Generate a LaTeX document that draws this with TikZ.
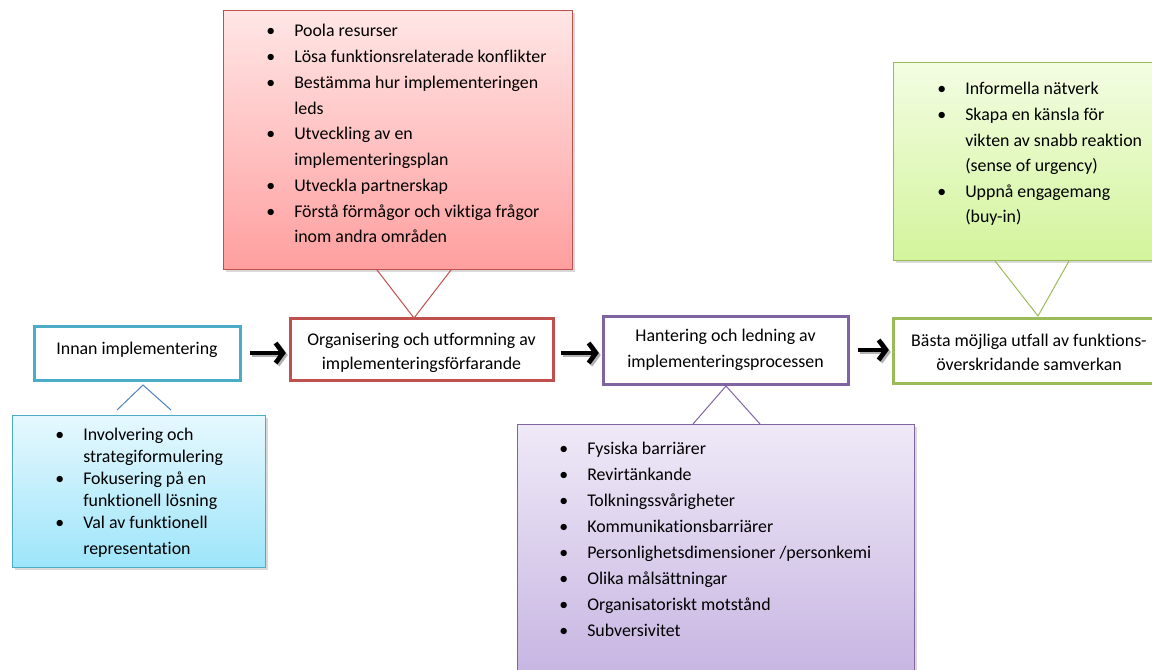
\documentclass[tikz,border=0pt]{standalone}
\usepackage{fontspec}
\setmainfont{Carlito}[Ligatures={NoCommon}]
\usetikzlibrary{arrows.meta,shadows}
\definecolor{redB}{HTML}{C0504D}
\definecolor{redT}{HTML}{FFE6E6}
\definecolor{redBt}{HTML}{FF9F9F}
\definecolor{bluB}{HTML}{4BACC6}
\definecolor{bluP}{HTML}{4F81BD}
\definecolor{bluT}{HTML}{E6F8FE}
\definecolor{bluBt}{HTML}{9DE5FA}
\definecolor{purB}{HTML}{8064A2}
\definecolor{purT}{HTML}{EFE9F7}
\definecolor{purBt}{HTML}{C3B0E0}
\definecolor{grnB}{HTML}{9BBB59}
\definecolor{grnT}{HTML}{F3FDE2}
\definecolor{grnBt}{HTML}{D3F49C}
\newcommand{\bl}{\makebox[21pt][l]{\textbullet}}
\begin{document}
\begin{tikzpicture}[x=0.75pt,y=-0.75pt,
  mainbox/.style={draw, line width=2.25pt, fill=white, inner sep=0pt,
    drop shadow={shadow xshift=1.5pt,shadow yshift=-1.5pt,opacity=0.25}},
  maintext/.style={anchor=base, inner sep=0pt},
  callout/.style={draw, line width=0.75pt, inner sep=0pt, anchor=north west,
    drop shadow={shadow xshift=2pt,shadow yshift=-2pt,opacity=0.3}},
  listtext/.style={anchor=base west, inner sep=0pt},
  pointer/.style={line width=0.75pt},
  bigarrow/.style={line width=3.5pt, shorten >=2pt, -{Straight Barb[length=5.5pt,width=15pt]},
    preaction={draw=black!30, line width=3.5pt, transform canvas={shift={(1.5pt,-1.5pt)}}}}
]
\useasboundingbox (0,0) rectangle (1152,670);
\clip (0,0) rectangle (1152,670);

% main boxes
\node[mainbox, draw=bluB, minimum width=154.5pt, minimum height=40.5pt] (inn) at (137,353) {};
\node[mainbox, draw=redB, minimum width=197.25pt, minimum height=46.5pt] (org) at (421.5,349) {};
\node[mainbox, draw=purB, minimum width=183.75pt, minimum height=51pt] (ham) at (725.5,350) {};
\node[mainbox, draw=grnB, minimum width=204pt, minimum height=48.75pt] (bas) at (1029,350.5) {};

\node[maintext, font=\fontsize{13.4}{18}\selectfont] (innt) at (137,354) {Innan implementering};
\node[maintext, font=\fontsize{13.4}{18}\selectfont] (orgt) at (421.5,345)
  {\begin{tabular}[t]{@{}c@{}}Organisering och utformning av\\implementeringsförfarande\end{tabular}};
\node[maintext, font=\fontsize{13.4}{19.7}\selectfont] (hamt) at (725.5,341)
  {\begin{tabular}[t]{@{}c@{}}Hantering och ledning av\\implementeringsprocessen\end{tabular}};
\node[maintext, font=\fontsize{13.4}{18}\selectfont] (bast) at (1029,346)
  {\begin{tabular}[t]{@{}c@{}}Bästa möjliga utfall av funktions-\\överskridande samverkan\end{tabular}};

% callouts
\node[callout, draw=redB, top color=redT, bottom color=redBt,
      minimum width=261.75pt, minimum height=194.25pt] (redc) at (223,10) {};
\node[callout, draw=bluB, top color=bluT, bottom color=bluBt,
      minimum width=189.75pt, minimum height=114pt] (bluc) at (12,415) {};
\node[callout, draw=grnB, top color=grnT, bottom color=grnBt,
      minimum width=204pt, minimum height=148.5pt] (grnc) at (893,62) {};
\node[callout, draw=purB, top color=purT, bottom color=purBt,
      minimum width=297.75pt, minimum height=207pt] (purc) at (517,424) {};

% list texts
\node[listtext, font=\fontsize{13.4}{19.3}\selectfont] (redl) at (266,37) {%
\begin{tabular}[t]{@{}l@{}}
\bl Poola resurser\\
\bl Lösa funktionsrelaterade konflikter\\
\bl Bestämma hur implementeringen\\
\hspace*{21pt}leds\\
\bl Utveckling av en\\
\hspace*{21pt}implementeringsplan\\
\bl Utveckla partnerskap\\
\bl Förstå förmågor och viktiga frågor\\
\hspace*{21pt}inom andra områden
\end{tabular}};
\node[listtext, font=\fontsize{13.4}{16.5}\selectfont] (blul) at (55,440) {%
\begin{tabular}[t]{@{}l@{}}
\bl Involvering och\\
\hspace*{21pt}strategiformulering\\
\bl Fokusering på en\\
\hspace*{21pt}funktionell lösning\\
\bl Val av funktionell\\[3pt]
\hspace*{21pt}representation
\end{tabular}};
\node[listtext, font=\fontsize{13.4}{19.2}\selectfont] (grnl) at (937,95) {%
\begin{tabular}[t]{@{}l@{}}
\bl Informella nätverk\\
\bl Skapa en känsla för\\
\hspace*{21pt}vikten av snabb reaktion\\
\hspace*{21pt}(sense of urgency)\\
\bl Uppnå engagemang\\
\hspace*{21pt}(buy-in)
\end{tabular}};
\node[listtext, font=\fontsize{13.4}{19.5}\selectfont] (purl) at (559,454) {%
\begin{tabular}[t]{@{}l@{}}
\bl Fysiska barriärer\\
\bl Revirtänkande\\
\bl Tolkningssvårigheter\\
\bl Kommunikationsbarriärer\\
\bl Personlighetsdimensioner /personkemi\\
\bl Olika målsättningar\\
\bl Organisatoriskt motstånd\\
\bl Subversivitet
\end{tabular}};

% pointers
\coordinate (rA) at (377,270);
\coordinate (rB) at (451,270);
\coordinate (rP) at (414,318);
\draw[pointer, redB] (rA) -- (rP) -- (rB);
\coordinate (bA) at (117,410);
\coordinate (bB) at (171,410);
\coordinate (bP) at (143,385);
\draw[pointer, bluP] (bA) -- (bP) -- (bB);
\coordinate (pA) at (693,424);
\coordinate (pB) at (760,424);
\coordinate (pP) at (726,386);
\draw[pointer, purB] (pA) -- (pP) -- (pB);
\coordinate (gA) at (995,261);
\coordinate (gB) at (1069,261);
\coordinate (gP) at (1038,316);
\draw[pointer, grnB] (gA) -- (gP) -- (gB);

% arrows
\draw[bigarrow] ([xshift=6pt]inn.east) -- (org.west |- inn.east);
\draw[bigarrow] ([xshift=4.5pt,yshift=-3pt]org.east) -- ([yshift=-3pt]org.east -| ham.west);
\draw[bigarrow] ([xshift=6pt]ham.east) -- (ham.east -| bas.west);
\end{tikzpicture}
\end{document}
